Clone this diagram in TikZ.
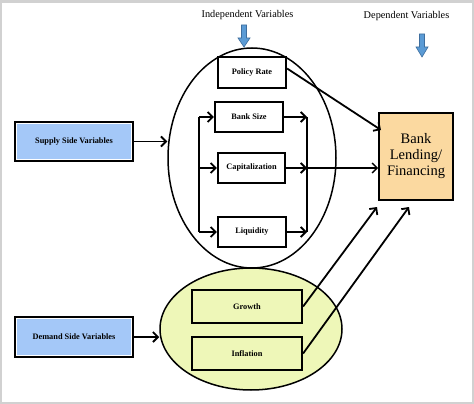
\documentclass[tikz,border=0pt]{standalone}
\usepackage{fontspec}
\setmainfont{Liberation Serif}
\usetikzlibrary{arrows.meta,shapes.geometric}
\definecolor{sideblue}{HTML}{A4C8F8}
\definecolor{lime}{HTML}{EEF7B8}
\definecolor{peach}{HTML}{FBD9A0}
\definecolor{arrblue}{HTML}{5B9BD5}
\definecolor{arredge}{HTML}{3E6E9E}
\tikzset{
  box/.style={draw, line width=2.2pt, inner sep=0pt, font=\fontsize{8.3}{9}\selectfont\bfseries},
  arr/.style={line width=1.8pt, -{Straight Barb[length=5pt,width=10pt]}},
  plain/.style={line width=1.8pt},
  blk/.style={fill=arrblue, draw=arredge, line width=0.6pt},
  lbl/.style={font=\fontsize{10.3}{12}\selectfont}
}
\begin{document}
\begin{tikzpicture}[x=1pt,y=-1pt]
\fill[black!18] (0,0) rectangle (474,404);
\fill[white] (1.5,3) rectangle (472,401.5);
\useasboundingbox (0,0) rectangle (474,404);

% labels
\node[lbl] (indep) at (247.5,15) {Independent Variables};
\node[lbl] (dep) at (406.5,16) {Dependent Variables};
\draw[blk] (241.5,25) -- (246.5,25) -- (246.5,38) -- (250,38) -- (244,47) -- (238,38) -- (241.5,38) -- cycle;
\draw[blk] (419.5,34) -- (424.5,34) -- (424.5,47) -- (428,47) -- (422,57) -- (416,47) -- (419.5,47) -- cycle;

% ellipses
\node[ellipse, draw, line width=1.5pt, minimum width=168, minimum height=220, inner sep=0pt] (upper) at (252,158) {};
\node[ellipse, draw, line width=1.5pt, fill=lime, minimum width=182, minimum height=122, inner sep=0pt] (lower) at (251,329) {};

% boxes
\node[box, fill=white, minimum width=68, minimum height=31] (pr) at (252,72.5) {Policy Rate};
\node[box, fill=white, minimum width=68, minimum height=30] (bs) at (249,117) {Bank Size};
\node[box, fill=white, minimum width=67, minimum height=30] (cap) at (251.5,168) {Capitalization};
\node[box, fill=white, minimum width=68, minimum height=30] (liq) at (252,232) {Liquidity};
\node[box, fill=lime, minimum width=110, minimum height=33] (gr) at (247,306.5) {Growth};
\node[box, fill=lime, minimum width=110, minimum height=33] (inf) at (247,353.5) {Inflation};
\node[box, fill=sideblue, minimum width=118, minimum height=39] (sup) at (74,141.5) {Supply Side Variables};
\node[box, fill=sideblue, minimum width=118, minimum height=40] (dem) at (74,337) {Demand Side Variables};
\draw[white, line width=0.9pt] ([shift={(2.6,2.6)}]sup.north west) rectangle ([shift={(-2.6,-2.6)}]sup.south east);
\draw[white, line width=0.9pt] ([shift={(2.6,2.6)}]dem.north west) rectangle ([shift={(-2.6,-2.6)}]dem.south east);
\node[draw, line width=2pt, fill=peach, minimum width=74, minimum height=87, inner sep=0pt, align=center, font=\fontsize{14.5}{16}\selectfont] (bl) at (416,156.5) {Bank\\Lending/\\Financing};

% internal connectors
\coordinate (L) at (199,0);
\coordinate (R) at (307,0);
\draw[plain] (bs.west -| L) -- (liq.west -| L);
\draw[arr] (bs.west -| L) -- (bs.west);
\draw[arr] (cap.west -| L) -- (cap.west);
\draw[arr] (liq.west -| L) -- (liq.west);
\draw[plain] (bs.east -| R) -- (liq.east -| R);
\draw[arr] (bs.east) -- (bs.east -| R);
\draw[arr] (cap.east) -- (cap.east -| R);
\draw[arr] (liq.east) -- (liq.east -| R);
\draw[arr, line width=1.4pt] (cap.east -| R) -- (bl.west |- cap.east);

% outer connectors
\draw[arr] ([yshift=4]pr.east) -- ([shift={(3,18)}]bl.north west);
\draw[arr] (sup.east) -- (upper.west |- sup.east);
\draw[arr] (dem.east) -- (lower.west |- dem.east);
\draw[arr] (gr.east) -- ([shift={(-1,6)}]bl.south west);
\draw[arr] (inf.east) -- ([shift={(-7,6)}]bl.south);
\end{tikzpicture}
\end{document}
